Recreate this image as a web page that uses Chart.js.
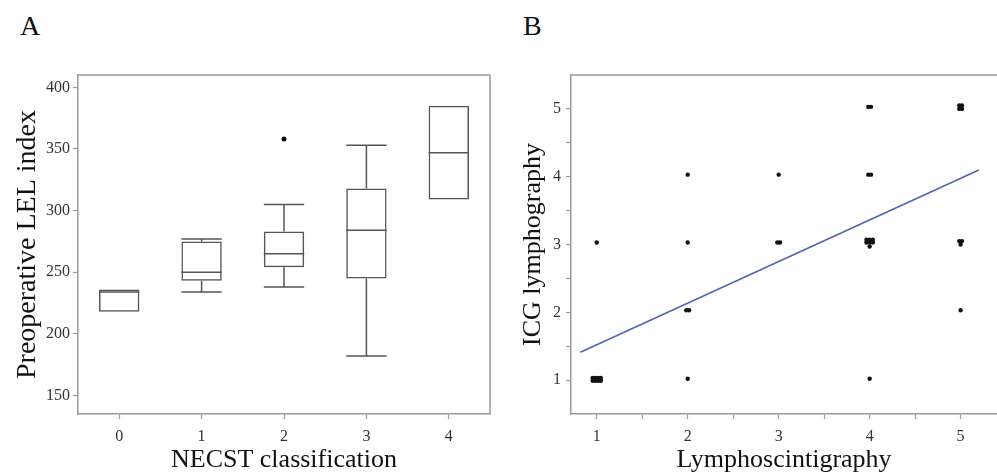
<!DOCTYPE html>
<html>
<head>
<meta charset="utf-8">
<script src="https://cdn.jsdelivr.net/npm/chart.js@4.4.0/dist/chart.umd.min.js"></script>
<style>
body { margin: 0; background: #fff; width: 997px; height: 473px; overflow: hidden; position: relative; font-family: 'Liberation Serif', serif; }
.panel { position: absolute; font-size: 28px; color: #111; }
#wrapA { position: absolute; left: 0; top: 0; width: 497px; height: 473px; }
#wrapB { position: absolute; left: 497px; top: 0; width: 504px; height: 473px; }
</style>
</head>
<body>
<div class="panel" style="left:20px;top:10px">A</div>
<div class="panel" style="left:523px;top:10px">B</div>
<div id="wrapA"><canvas id="chartA"></canvas></div>
<div id="wrapB"><canvas id="chartB"></canvas></div>
<script>
// panel A - LEL index per NECST class (box plot)
const necstClasses = ['0', '1', '2', '3', '4']
const boxMin    = [218, 234, 238, 182, 309]
const boxQ1     = [218, 243, 254, 245, 309]
const boxMedian = [234, 250, 265, 284, 347]
const boxQ3     = [236, 275, 283, 318, 385]
const boxMax    = [236, 277, 305, 353, 385]
const outlierClass = ['2']
const outlierValue = [358]
const lelTicks = [150, 200, 250, 300, 350, 400]

// panel B - lymphoscintigraphy vs ICG lymphography (points are slightly jittered in the source)
const lymphoX = [0.955, 0.985, 1.015, 1.045, 0.955, 0.985, 1.015, 1.045, 1.0,
  2.0, 2.0, 1.985, 2.015, 2.0,
  3.0, 2.985, 3.015,
  3.985, 4.015, 3.985, 4.015, 3.965, 4.0, 4.035, 3.965, 4.0, 4.035, 4.0, 4.0,
  4.985, 5.015, 4.985, 5.015, 4.985, 5.015, 5.0, 5.0]
const icgY = [1.03, 1.03, 1.03, 1.03, 0.99, 0.99, 0.99, 0.99, 3.03,
  4.03, 3.03, 2.03, 2.03, 1.02,
  4.03, 3.03, 3.03,
  5.03, 5.03, 4.03, 4.03, 3.07, 3.07, 3.07, 3.03, 3.03, 3.03, 2.97, 1.02,
  5.05, 5.05, 5.0, 5.0, 3.05, 3.05, 3.0, 2.03]
const fitX = [0.82, 5.2]
const fitY = [1.41, 4.10]
const scaleTicksB = [1, 2, 3, 4, 5]

const AXIS = '#9a9a9a'
Chart.defaults.font.family = "'Liberation Serif', serif"
Chart.defaults.color = '#333'

// frame on top (and right, for A) of the plot area
function makeFrame(withRight) {
  return {
    id: 'frame',
    afterDraw(chart) {
      const a = chart.chartArea, ctx = chart.ctx
      ctx.save()
      ctx.strokeStyle = AXIS
      ctx.lineWidth = 1.5
      ctx.beginPath()
      ctx.moveTo(a.left, a.top)
      ctx.lineTo(a.right, a.top)
      if (withRight) ctx.lineTo(a.right, a.bottom)
      ctx.stroke()
      ctx.restore()
    }
  }
}

// median, whiskers and caps drawn on top of the floating bars
const boxPlugin = {
  id: 'boxparts',
  afterDatasetsDraw(chart) {
    const ctx = chart.ctx
    const y = chart.scales.y
    const meta = chart.getDatasetMeta(0)
    ctx.save()
    ctx.strokeStyle = '#555'
    ctx.lineWidth = 1.5
    meta.data.forEach(function (bar, i) {
      const xc = bar.x, hw = bar.width / 2
      ctx.beginPath()
      ctx.moveTo(xc - hw, y.getPixelForValue(boxMedian[i]))
      ctx.lineTo(xc + hw, y.getPixelForValue(boxMedian[i]))
      if (boxMax[i] > boxQ3[i]) {
        ctx.moveTo(xc, y.getPixelForValue(boxQ3[i]))
        ctx.lineTo(xc, y.getPixelForValue(boxMax[i]))
        ctx.moveTo(xc - hw, y.getPixelForValue(boxMax[i]))
        ctx.lineTo(xc + hw, y.getPixelForValue(boxMax[i]))
      }
      if (boxMin[i] < boxQ1[i]) {
        ctx.moveTo(xc, y.getPixelForValue(boxQ1[i]))
        ctx.lineTo(xc, y.getPixelForValue(boxMin[i]))
        ctx.moveTo(xc - hw, y.getPixelForValue(boxMin[i]))
        ctx.lineTo(xc + hw, y.getPixelForValue(boxMin[i]))
      }
      ctx.stroke()
    })
    ctx.restore()
  }
}

function axisGrid() {
  return { display: true, offset: false, drawOnChartArea: false, drawTicks: true, tickLength: 5, tickColor: AXIS, tickWidth: 1.2 }
}
const axisBorder = { display: true, color: AXIS, width: 1.5 }

var outlierData = necstClasses.map(function (c) {
  var k = outlierClass.indexOf(c)
  return k >= 0 ? outlierValue[k] : null
})

new Chart(document.getElementById('chartA'), {
  type: 'bar',
  data: {
    labels: necstClasses,
    datasets: [{
      data: necstClasses.map((c, i) => [boxQ1[i], boxQ3[i]]),
      backgroundColor: 'rgba(255,255,255,0)',
      borderColor: '#555',
      borderWidth: 1.5,
      borderSkipped: false,
      barPercentage: 0.49,
      categoryPercentage: 1
    }, {
      type: 'line',
      data: outlierData,
      showLine: false,
      pointRadius: 2.5,
      pointBackgroundColor: '#111',
      pointBorderWidth: 0
    }]
  },
  options: {
    animation: false,
    responsive: true,
    maintainAspectRatio: false,
    layout: { padding: { top: 75, right: 7, left: 0, bottom: 0 } },
    plugins: { legend: { display: false }, tooltip: { enabled: false } },
    scales: {
      x: {
        grid: axisGrid(),
        border: axisBorder,
        ticks: { font: { size: 16 }, padding: 8 },
        title: { display: true, text: 'NECST classification', color: '#111', font: { size: 26, lineHeight: 1 }, padding: { top: 0, bottom: 0 } },
        afterFit(s) { s.height = 59 }
      },
      y: {
        min: 135, max: 410,
        grid: axisGrid(),
        border: axisBorder,
        ticks: { font: { size: 16 }, padding: 3 },
        afterBuildTicks(s) { s.ticks = lelTicks.map(v => ({ value: v })) },
        title: { display: true, text: 'Preoperative LEL index', color: '#111', font: { size: 28, lineHeight: 1 }, padding: { top: 14, bottom: 0 } },
        afterFit(s) { s.width = 78 }
      }
    }
  },
  plugins: [boxPlugin, makeFrame(true)]
})

// integer ticks get labels, half steps are just small marks
function withHalves(list) {
  var out = []
  list.forEach(function (v, i) {
    out.push({ value: v })
    if (i < list.length - 1) out.push({ value: v + 0.5 })
  })
  return out
}
function intLabel(v) { return Number.isInteger(v) ? v : '' }

new Chart(document.getElementById('chartB'), {
  type: 'scatter',
  data: {
    datasets: [{
      data: lymphoX.map((x, i) => ({ x: x, y: icgY[i] })),
      pointRadius: 2.2,
      pointBackgroundColor: '#111',
      pointBorderWidth: 0
    }, {
      type: 'line',
      data: fitX.map((x, i) => ({ x: x, y: fitY[i] })),
      borderColor: '#5066b0',
      borderWidth: 1.6,
      pointRadius: 0,
      fill: false
    }]
  },
  options: {
    animation: false,
    responsive: true,
    maintainAspectRatio: false,
    layout: { padding: { top: 75, right: 0, left: 0, bottom: 0 } },
    plugins: { legend: { display: false }, tooltip: { enabled: false } },
    scales: {
      x: {
        type: 'linear', min: 0.717, max: 5.4,
        grid: axisGrid(),
        border: axisBorder,
        ticks: { font: { size: 16 }, padding: 8, callback: intLabel, autoSkip: false, maxRotation: 0 },
        afterBuildTicks(s) { s.ticks = withHalves(scaleTicksB) },
        title: { display: true, text: 'Lymphoscintigraphy', color: '#111', font: { size: 26, lineHeight: 1 }, padding: { top: 0, bottom: 0 } },
        afterFit(s) { s.height = 59 }
      },
      y: {
        min: 0.5, max: 5.5,
        grid: axisGrid(),
        border: axisBorder,
        ticks: { font: { size: 16 }, padding: 5, callback: intLabel, autoSkip: false },
        afterBuildTicks(s) { s.ticks = withHalves(scaleTicksB) },
        title: { display: true, text: 'ICG lymphography', color: '#111', font: { size: 26, lineHeight: 1 }, padding: { top: 23, bottom: 0 } },
        afterFit(s) { s.width = 74 }
      }
    }
  },
  plugins: [makeFrame(false)]
})
</script>
</body>
</html>
